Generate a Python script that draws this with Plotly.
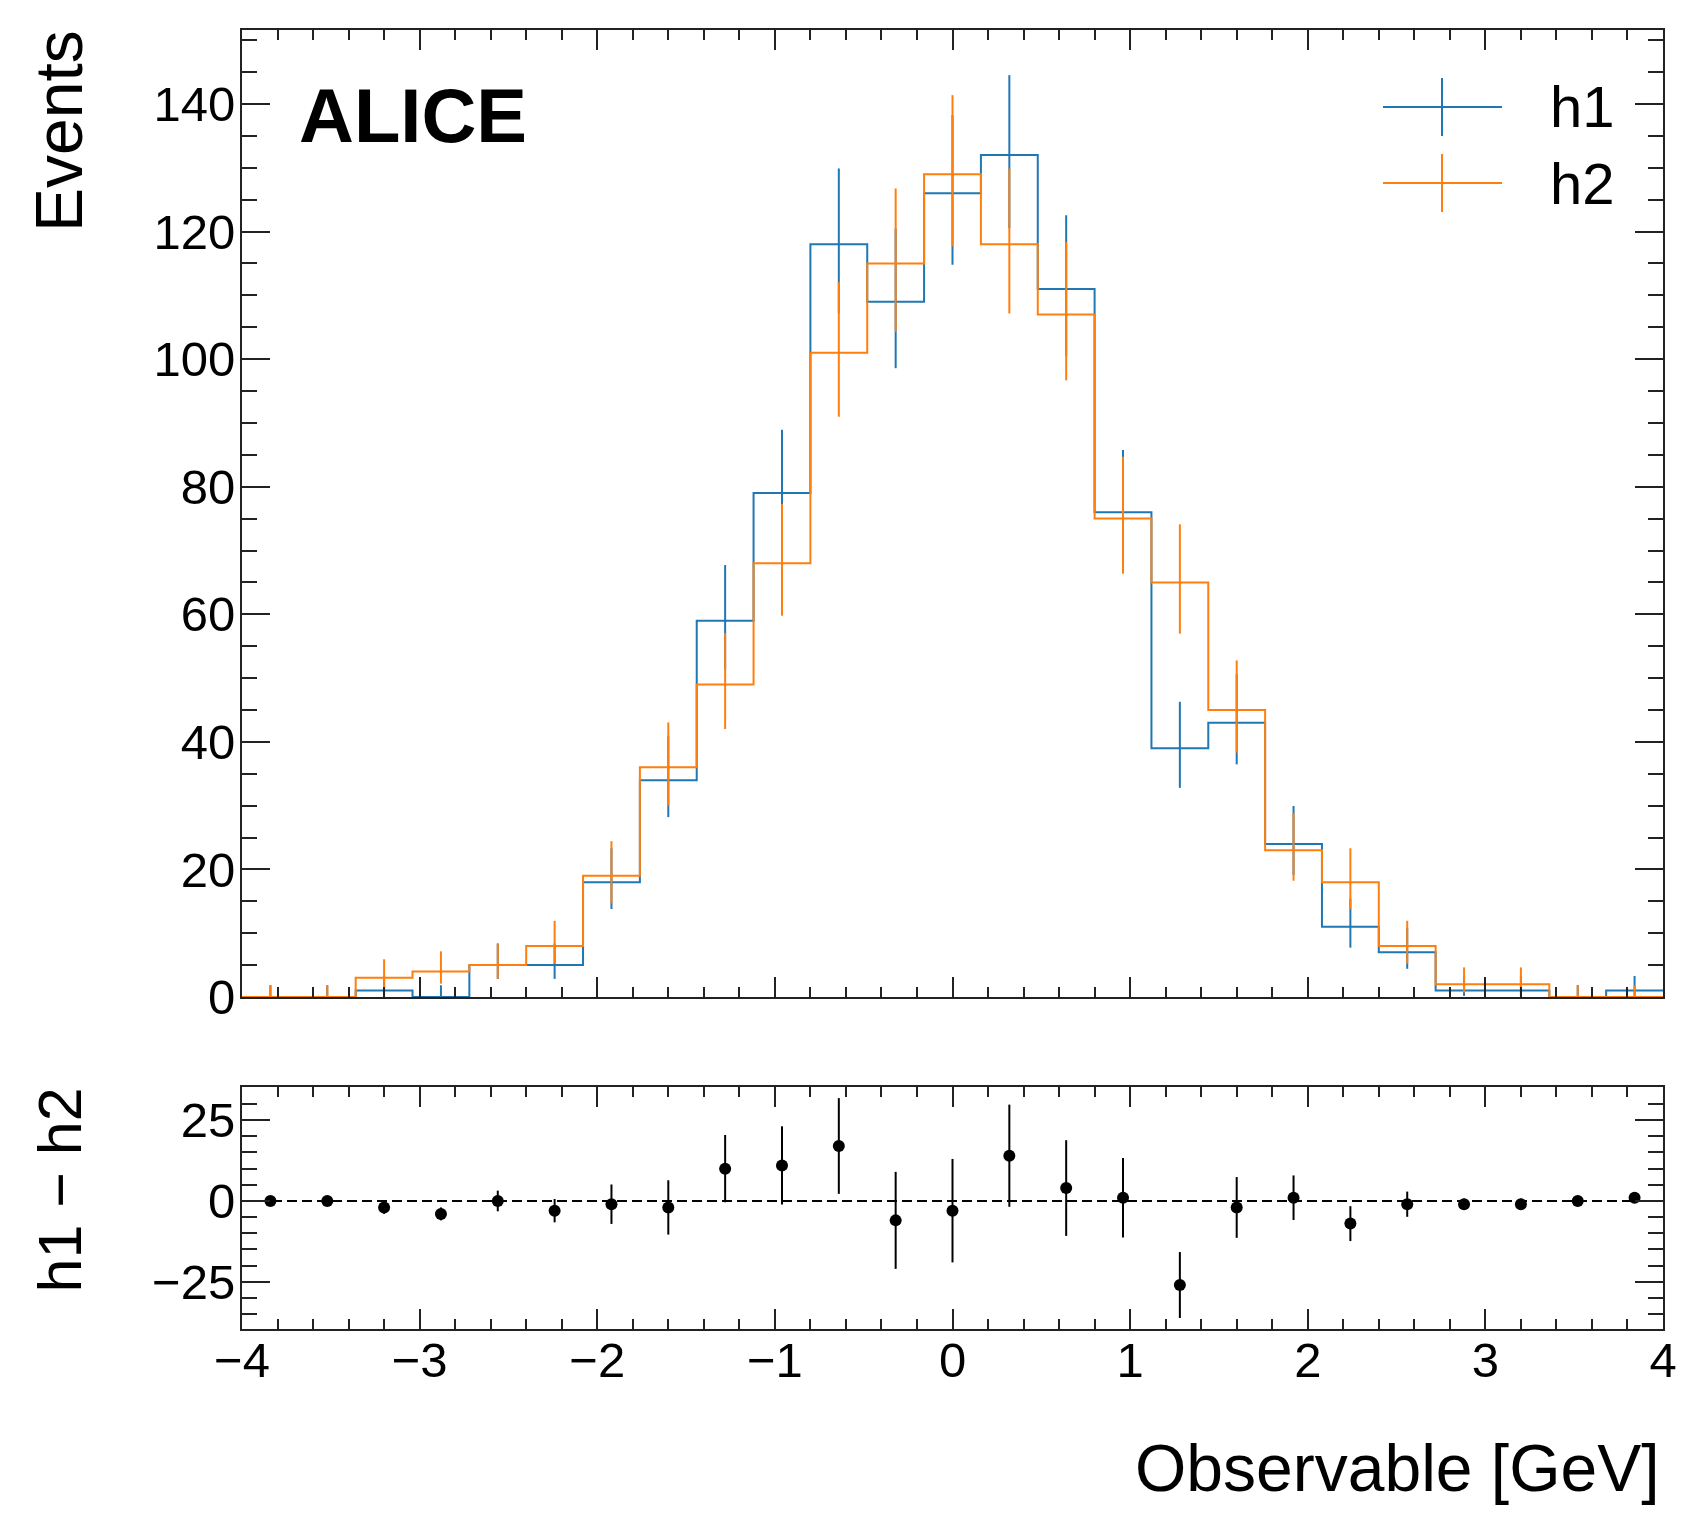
import numpy as np
import plotly.graph_objects as go

# binning of the observable
x_lo, x_hi, n_bins = -4.0, 4.0, 25
edges = np.linspace(x_lo, x_hi, n_bins + 1)
centers = 0.5 * (edges[:-1] + edges[1:])

# counts
h1 = [0, 0, 1, 0, 5, 5, 18, 34, 59, 79, 118, 109, 126, 132, 111, 76, 39, 43, 24, 11, 7, 1, 1, 0, 1]
h2 = [0, 0, 3, 4, 5, 8, 19, 36, 49, 68, 101, 115, 129, 118, 107, 75, 65, 45, 23, 18, 8, 2, 2, 0, 0]

# poisson error bars (down / up)
h1_err_lo = [0, 0, 0.83, 0, 2.16, 2.16, 4.2, 5.8, 7.66, 8.86, 10.84, 10.42, 11.2, 11.47, 10.51, 8.7, 6.21, 6.53, 4.87, 3.27, 2.58, 0.83, 0.83, 0, 0.83]
h1_err_hi = [1.84, 1.84, 2.3, 1.84, 3.38, 3.38, 5.32, 6.88, 8.72, 9.92, 11.89, 11.47, 12.25, 12.52, 11.56, 9.76, 7.28, 7.6, 5.95, 4.42, 3.77, 2.3, 2.3, 1.84, 2.3]
h2_err_lo = [0, 0, 1.63, 1.91, 2.16, 2.77, 4.32, 5.97, 6.98, 8.22, 10.03, 10.7, 11.33, 10.84, 10.32, 8.64, 8.04, 6.69, 4.77, 4.2, 2.77, 1.29, 1.29, 0, 0]
h2_err_hi = [1.84, 1.84, 2.92, 3.16, 3.38, 3.95, 5.43, 7.05, 8.05, 9.29, 11.08, 11.76, 12.39, 11.89, 11.37, 9.7, 9.11, 7.76, 5.86, 5.32, 3.95, 2.64, 2.64, 1.84, 1.84]

# difference panel
diff = [0, 0, -2, -4, 0, -3, -1, -2, 10, 11, 17, -6, -3, 14, 4, 1, -26, -2, 1, -7, -1, -1, -1, 0, 1]
diff_err = [0, 0, 2.0, 2.0, 3.2, 3.6, 6.1, 8.4, 10.4, 12.1, 14.8, 15.0, 16.0, 15.8, 14.8, 12.3, 10.2, 9.4, 6.9, 5.4, 3.9, 1.7, 1.7, 0, 1.0]

BLUE = "#1f77b4"
ORANGE = "#ff7f0e"
FONT = "Liberation Sans"
AXC = "#222222"

# page body adds 8px, so the figure is 8px smaller and all targets are shifted
OFF = 8
W, H = 1708 - OFF, 1535 - OFF
L, R, T, B = 242 - OFF, 45, 30 - OFF, 206


def px_x(px):
    return (px - OFF - L) / (W - L - R)


def px_y(py):
    return (H - B - (py - OFF)) / (H - T - B)


fig = go.Figure()

for vals, lo, hi, col, name in [(h1, h1_err_lo, h1_err_hi, BLUE, "h1"),
                                 (h2, h2_err_lo, h2_err_hi, ORANGE, "h2")]:
    fig.add_trace(go.Scatter(
        x=edges, y=list(vals) + [vals[-1]], mode="lines", line_shape="hv",
        line=dict(color=col, width=2), name=name, xaxis="x", yaxis="y",
        showlegend=False
    ))
    fig.add_trace(go.Scatter(
        x=centers, y=vals, mode="markers", marker=dict(size=1, color=col),
        error_y=dict(type="data", symmetric=False, array=hi, arrayminus=lo,
                     width=0, thickness=2, color=col),
        xaxis="x", yaxis="y", showlegend=False
    ))

fig.add_trace(go.Scatter(
    x=centers, y=diff, mode="markers", marker=dict(size=12, color="black"),
    error_y=dict(type="data", array=diff_err, width=0, thickness=2, color="black"),
    xaxis="x2", yaxis="y2", showlegend=False
))

axis_common = dict(showline=True, linewidth=2, linecolor=AXC, mirror="ticks",
                   ticks="inside", tickwidth=2, tickcolor=AXC, showgrid=False,
                   zeroline=False, layer="above traces",
                   tickfont=dict(family=FONT, size=49, color="black"))

fig.update_layout(
    width=W, height=H,
    margin=dict(l=L, r=R, t=T, b=B),
    paper_bgcolor="white", plot_bgcolor="white",
    showlegend=False,
    xaxis=dict(axis_common, domain=[0, 1], anchor="y", range=[-4, 4], dtick=1,
               ticklen=20, showticklabels=False, matches="x2",
               minor=dict(dtick=0.2, ticklen=10, tickwidth=2, ticks="inside", tickcolor=AXC)),
    yaxis=dict(axis_common, domain=[px_y(997), 1], anchor="x", range=[0, 151.6],
               tick0=0, dtick=20, ticklen=28, ticklabelstandoff=-5,
               minor=dict(dtick=5, ticklen=15, tickwidth=2, ticks="inside", tickcolor=AXC)),
    xaxis2=dict(axis_common, domain=[0, 1], anchor="y2", range=[-4, 4], dtick=1,
                ticklen=20, ticklabelstandoff=-13,
                minor=dict(dtick=0.2, ticklen=10, tickwidth=2, ticks="inside", tickcolor=AXC)),
    yaxis2=dict(axis_common, domain=[0, px_y(1087)], anchor="x2", range=[-39.6, 35.25],
                tick0=0, dtick=25, ticklen=28, ticklabelstandoff=-5,
                minor=dict(dtick=5, ticklen=15, tickwidth=2, ticks="inside", tickcolor=AXC)),
)

# dashed zero line in the difference panel
fig.add_shape(type="line", xref="x2 domain", yref="y2", x0=0, x1=1, y0=0, y1=0,
              line=dict(color="black", width=2, dash="10px,5px"), layer="below")

# hand-made legend (errorbar crosses)
for col, name, yc in [(BLUE, "h1", 107), (ORANGE, "h2", 183)]:
    fig.add_shape(type="line", xref="paper", yref="paper",
                  x0=px_x(1383), x1=px_x(1502), y0=px_y(yc), y1=px_y(yc),
                  line=dict(color=col, width=2))
    fig.add_shape(type="line", xref="paper", yref="paper",
                  x0=px_x(1442), x1=px_x(1442), y0=px_y(yc - 29), y1=px_y(yc + 29),
                  line=dict(color=col, width=2))
    fig.add_annotation(text=name, xref="paper", yref="paper", x=px_x(1548), y=px_y(yc),
                       xanchor="left", yanchor="middle", showarrow=False,
                       font=dict(family=FONT, size=58, color="black"))

fig.add_annotation(text="ALICE", xref="paper", yref="paper", x=px_x(297), y=px_y(116),
                   xanchor="left", yanchor="middle", showarrow=False,
                   font=dict(family=FONT, size=76, color="black", weight="bold"))

fig.add_annotation(text="Events", xref="paper", yref="paper", x=px_x(59), y=px_y(28),
                   xanchor="center", yanchor="top", textangle=-90, showarrow=False,
                   font=dict(family=FONT, size=66, color="black"))
fig.add_annotation(text="h1 \u2212 h2", xref="paper", yref="paper", x=px_x(59), y=px_y(1086),
                   xanchor="center", yanchor="top", textangle=-90, showarrow=False,
                   font=dict(family=FONT, size=61, color="black"))
fig.add_annotation(text="Observable [GeV]", xref="paper", yref="paper", x=px_x(1662), y=px_y(1468),
                   xanchor="right", yanchor="middle", showarrow=False,
                   font=dict(family=FONT, size=66, color="black"))

fig.write_html("out.html")
